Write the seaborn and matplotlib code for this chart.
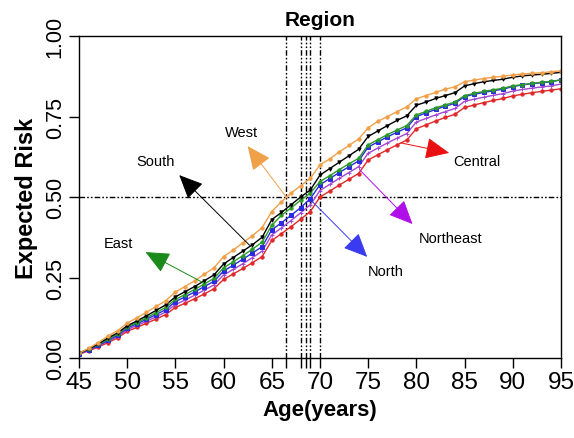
import matplotlib
matplotlib.use("Agg")
import matplotlib.pyplot as plt
import seaborn as sns
import pandas as pd

ages = list(range(45, 96))

west = [0.015, 0.030, 0.048, 0.068, 0.085, 0.108, 0.125, 0.142, 0.160, 0.178,
        0.205, 0.222, 0.240, 0.260, 0.280, 0.315, 0.335, 0.358, 0.380, 0.405,
        0.455, 0.485, 0.512, 0.535, 0.558, 0.600, 0.618, 0.640, 0.660, 0.680,
        0.715, 0.735, 0.750, 0.765, 0.780, 0.805, 0.815, 0.825, 0.835, 0.842,
        0.858, 0.863, 0.868, 0.872, 0.875, 0.879, 0.882, 0.884, 0.886, 0.889,
        0.892]
south = [0.015, 0.028, 0.044, 0.062, 0.078, 0.100, 0.115, 0.131, 0.148, 0.165,
         0.190, 0.206, 0.222, 0.240, 0.258, 0.292, 0.312, 0.332, 0.352, 0.375,
         0.430, 0.452, 0.476, 0.500, 0.522, 0.568, 0.588, 0.608, 0.628, 0.648,
         0.688, 0.705, 0.722, 0.738, 0.752, 0.785, 0.795, 0.806, 0.815, 0.824,
         0.845, 0.852, 0.858, 0.862, 0.866, 0.872, 0.876, 0.879, 0.881, 0.884,
         0.887]
east = [0.015, 0.027, 0.042, 0.058, 0.074, 0.096, 0.110, 0.125, 0.141, 0.157,
        0.182, 0.197, 0.213, 0.230, 0.247, 0.280, 0.299, 0.318, 0.338, 0.360,
        0.412, 0.443, 0.466, 0.490, 0.512, 0.548, 0.566, 0.585, 0.603, 0.620,
        0.662, 0.678, 0.694, 0.708, 0.722, 0.755, 0.766, 0.777, 0.786, 0.795,
        0.815, 0.822, 0.828, 0.833, 0.838, 0.845, 0.849, 0.853, 0.856, 0.859,
        0.864]
north = [0.013, 0.025, 0.039, 0.055, 0.070, 0.093, 0.106, 0.120, 0.135, 0.150,
         0.175, 0.190, 0.205, 0.222, 0.238, 0.270, 0.288, 0.307, 0.326, 0.346,
         0.398, 0.420, 0.443, 0.467, 0.495, 0.538, 0.557, 0.576, 0.594, 0.612,
         0.655, 0.671, 0.687, 0.701, 0.715, 0.750, 0.761, 0.772, 0.782, 0.791,
         0.812, 0.819, 0.825, 0.830, 0.835, 0.843, 0.848, 0.852, 0.855, 0.858,
         0.864]
northeast = [0.013, 0.024, 0.037, 0.052, 0.066, 0.088, 0.101, 0.114, 0.128, 0.143,
             0.166, 0.180, 0.195, 0.211, 0.227, 0.258, 0.275, 0.293, 0.312, 0.332,
             0.382, 0.404, 0.427, 0.451, 0.476, 0.520, 0.539, 0.558, 0.576, 0.594,
             0.636, 0.652, 0.668, 0.683, 0.697, 0.733, 0.744, 0.755, 0.765, 0.775,
             0.797, 0.804, 0.810, 0.816, 0.821, 0.829, 0.834, 0.838, 0.842, 0.845,
             0.851]
central = [0.012, 0.022, 0.034, 0.048, 0.062, 0.083, 0.095, 0.108, 0.121, 0.135,
           0.157, 0.170, 0.184, 0.199, 0.215, 0.244, 0.261, 0.278, 0.296, 0.315,
           0.365, 0.386, 0.408, 0.431, 0.455, 0.500, 0.518, 0.537, 0.555, 0.573,
           0.615, 0.631, 0.647, 0.662, 0.677, 0.712, 0.724, 0.736, 0.747, 0.757,
           0.778, 0.786, 0.793, 0.800, 0.806, 0.814, 0.819, 0.824, 0.828, 0.832,
           0.836]

regions = ["Central", "Northeast", "North", "East", "South", "West"]
series = [central, northeast, north, east, south, west]
colors = ["#e0282a", "#a448d0", "#2a2ae0", "#2a9a2a", "#000000", "#f0a048"]
markers = ["o", "+", "s", "o", "v", "o"]

# ages at which each curve reaches a risk of 0.5
median_ages = [66.5, 68.0, 68.5, 69.0, 70.0]
half_risk = 0.5

# label text, label position, arrow tail (on curve), arrow tip
label_text = ["West", "South", "East", "Central", "Northeast", "North"]
label_xy = [(61.9, 0.702), (52.9, 0.612), (49.1, 0.357), (86.3, 0.612), (83.5, 0.373), (76.8, 0.270)]
arrow_tail = [(66.5, 0.500), (62.7, 0.350), (58.0, 0.232), (78.4, 0.668), (74.1, 0.585), (69.2, 0.486)]
arrow_tip = [(62.5, 0.658), (55.4, 0.568), (51.9, 0.329), (83.4, 0.637), (79.6, 0.416), (74.9, 0.314)]
arrow_colors = ["#f0a048", "#000000", "#1a8a1a", "#e81010", "#b010e8", "#3a3af0"]

sns.set_theme(style="white")
plt.rcParams["font.family"] = ["Liberation Sans", "DejaVu Sans"]
plt.rcParams.update({"text.color": "black", "axes.labelcolor": "black",
                     "xtick.color": "black", "ytick.color": "black",
                     "axes.edgecolor": "black"})

fig = plt.figure(figsize=(5.74, 4.39), dpi=100)
ax = fig.add_axes([0.1376, 0.1822, 0.8397, 0.7335])

rows = []
for name, vals in zip(regions, series):
    for a, v in zip(ages, vals):
        rows.append({"Age": a, "Risk": v, "Region": name})
df = pd.DataFrame(rows)

for name, col, mk in zip(regions, colors, markers):
    sub = df[df["Region"] == name]
    sns.lineplot(data=sub, x="Age", y="Risk", color=col, marker=mk,
                 markersize=2.4 if mk != "+" else 3.5, markeredgewidth=0.7,
                 markeredgecolor=col, linewidth=1.0, ax=ax, legend=False)

ref_style = (0, (4, 1.5, 1.2, 1.5, 1.2, 1.5))
for a in median_ages:
    ax.axvline(a, color="black", linestyle=ref_style, linewidth=1.0, zorder=1)
ax.axhline(half_risk, color="black", linestyle=ref_style, linewidth=1.0, zorder=1)

for txt, lxy, tail, tip, hc in zip(label_text, label_xy, arrow_tail, arrow_tip, arrow_colors):
    ax.annotate("", xy=tip, xytext=tail,
                arrowprops=dict(arrowstyle="-|>,head_length=1.0,head_width=0.45",
                                color=hc, lw=0.7, shrinkA=0, shrinkB=0,
                                mutation_scale=15))
    ax.text(lxy[0], lxy[1], txt, fontsize=10.5, ha="center", va="center", color="black")

ax.set_xlim(45, 95)
ax.set_ylim(0, 1)
ax.set_xticks(range(45, 96, 5))
ax.set_xticks(median_ages, minor=True)
ax.set_yticks([0, 0.25, 0.5, 0.75, 1.0])
ax.set_yticklabels(["0.00", "0.25", "0.50", "0.75", "1.00"], rotation=90, va="center")
ax.tick_params(axis="both", which="both", direction="out", length=7.5, width=1,
               color="black", labelcolor="black", bottom=True, left=True, pad=2)
ax.tick_params(axis="x", which="minor", labelbottom=False)
ax.tick_params(axis="x", labelsize=17.5)
ax.tick_params(axis="y", labelsize=15.5)
for s in ax.spines.values():
    s.set_color("black")
    s.set_linewidth(1)

ax.set_xlabel("Age(years)", fontsize=16, fontweight="bold", labelpad=4, color="black")
ax.set_ylabel("Expected Risk", fontsize=17, fontweight="bold", labelpad=5, color="black")
ax.set_title("Region", fontsize=15, fontweight="bold", pad=8, color="black")

fig.savefig("out.png", dpi=100)
